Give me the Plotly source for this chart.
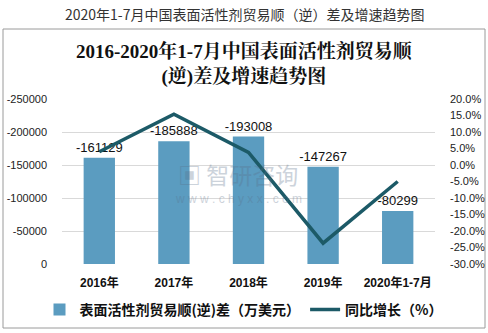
import plotly.graph_objects as go

categories = ["2016年", "2017年", "2018年", "2019年", "2020年1-7月"]
balance = [-161129, -185888, -193008, -147267, -80299]
growth = [4.0, 15.4, 3.8, -23.7, -5.0]
left_ticks = [0, -50000, -100000, -150000, -200000, -250000]
right_ticks = [20, 15, 10, 5, 0, -5, -10, -15, -20, -25, -30]

W, H = 488, 333
def py(y):
    return (H - y) / H

fig = go.Figure()
fig.add_trace(go.Bar(
    x=categories, y=balance, name="表面活性剂贸易顺(逆)差（万美元）",
    marker=dict(color="#5b9cc0", line=dict(width=0)),
    width=0.42,
    text=[str(v) for v in balance], textposition="outside", constraintext="none",
    textfont=dict(family="Liberation Sans, Arial", size=13, color="#111"),
    cliponaxis=False,
))
fig.add_trace(go.Scatter(
    x=categories, y=growth, name="同比增长（%）", yaxis="y2",
    mode="lines", line=dict(color="#1c5a67", width=3.5),
))

fig.update_layout(
    width=W, height=H, margin=dict(l=0, r=0, t=0, b=0),
    paper_bgcolor="white", plot_bgcolor="white",
    showlegend=True,
    legend=dict(orientation="h", x=0.5, xanchor="center", y=py(310), yanchor="middle",
                font=dict(family="Noto Sans CJK SC", size=14, color="#111", weight="bold"),
                itemwidth=30, traceorder="normal", bgcolor="rgba(0,0,0,0)"),
    xaxis=dict(domain=[62 / W, 435 / W], anchor="y", automargin=False,
               tickfont=dict(family="Liberation Sans, Noto Sans CJK SC", size=12, color="#111", weight="bold"),
               showgrid=False, showline=False, ticks="", ticklabelstandoff=10),
    yaxis=dict(domain=[py(264), py(99)], range=[0, -250000], automargin=False,
               tickvals=left_ticks, ticktext=[str(v) for v in left_ticks],
               tickfont=dict(family="Liberation Sans, Arial", size=11, color="#222"),
               showgrid=True, gridcolor="#d9d9d9", gridwidth=1, zeroline=False,
               showline=False, ticks="", ticklabelstandoff=14),
    yaxis2=dict(overlaying="y", side="right", range=[-30, 20], automargin=False,
                tickvals=right_ticks, ticktext=[f"{v:.1f}%" for v in right_ticks],
                tickfont=dict(family="Liberation Sans, Arial", size=11, color="#222"),
                showgrid=False, zeroline=False, showline=False, ticks="", ticklabelstandoff=14),
)

fig.add_shape(type="rect", xref="paper", yref="paper", x0=3 / W, x1=485 / W, y0=py(328), y1=py(29),
              line=dict(color="#9a9a9a", width=1), layer="below")

fig.add_annotation(xref="paper", yref="paper", x=0.5, y=py(14), yanchor="middle", showarrow=False,
                   text="2020年1-7月中国表面活性剂贸易顺（逆）差及增速趋势图",
                   font=dict(family="Noto Sans CJK SC", size=14, color="#333"))
fig.add_annotation(xref="paper", yref="paper", x=0.5, y=py(64), yanchor="middle", showarrow=False,
                   text="<b>2016-2020年1-7月中国表面活性剂贸易顺<br>(逆)差及增速趋势图</b>",
                   font=dict(family="Liberation Serif, Noto Serif CJK SC, Noto Sans CJK SC", size=19, color="#111"))

# watermark
fig.add_annotation(xref="paper", yref="paper", x=238 / W, y=py(174), yanchor="middle", showarrow=False,
                   text="<b>▣</b> 智研咨询", opacity=0.3,
                   font=dict(family="Noto Sans CJK SC", size=23, color="#5a6f8a"))
fig.add_annotation(xref="paper", yref="paper", x=238 / W, y=py(199), yanchor="middle", showarrow=False,
                   text="w w w . c h y x x . c o m", opacity=0.3,
                   font=dict(family="Liberation Sans", size=12, color="#5a6f8a"))

fig.write_html("out.html")
